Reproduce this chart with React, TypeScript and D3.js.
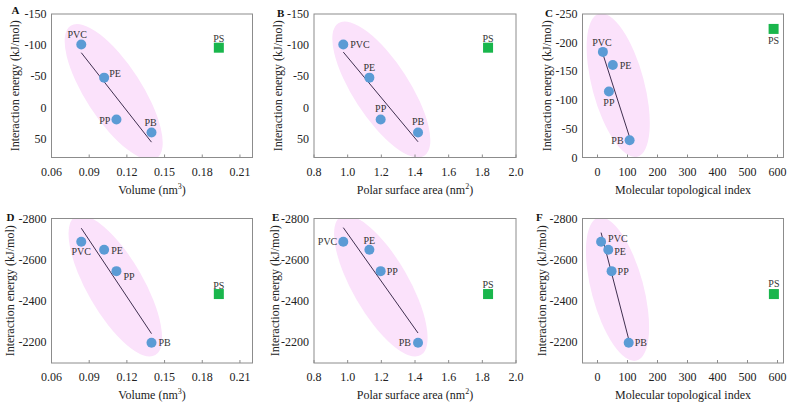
import React from 'react';
import * as d3 from 'd3';

const materials = ['PVC', 'PE', 'PP', 'PB', 'PS'];
const volume = [0.0837, 0.1019, 0.1117, 0.1396, 0.1932];
const polarSurfaceArea = [0.974, 1.129, 1.196, 1.418, 1.834];
const topologicalIndexC = [18, 51, 38, 107, 587];
const topologicalIndexF = [12, 36, 47, 104, 588];
const energyAB = [-101, -48, 19, 40, -96];
const energyC = [-184, -161, -115, -30, -224];
const energyDEF = [-2687, -2649, -2545, -2198, -2434];

const volumeTicks = [0.06, 0.09, 0.12, 0.15, 0.18, 0.21];
const psaTicks = [0.8, 1.0, 1.2, 1.4, 1.6, 1.8, 2.0];
const topoTicks = [0, 100, 200, 300, 400, 500, 600];
const energyABTicks = [-150, -100, -50, 0, 50];
const energyCTicks = [-250, -200, -150, -100, -50, 0];
const energyDEFTicks = [-2800, -2600, -2400, -2200];

const panelLetters = ['A', 'B', 'C', 'D', 'E', 'F'];
const yTitle = 'Interaction energy (kJ/mol)';

const FONT = "'Liberation Serif', 'Times New Roman', serif";
const BLUE = '#5b9bd5';
const GREEN = '#19b64c';
const PINK = '#fbe2fb';
const LINE = '#3f2f4f';
const FRAME = '#8c8c8c';

type Lab = [string, number, number];

interface Panel {
  letter: string;
  x: number[];
  y: number[];
  xDomain: [number, number];
  yDomain: [number, number];
  xTicks: number[];
  yTicks: number[];
  xFmt: (v: number) => string;
  xTitle: 'vol' | 'psa' | 'topo';
  left: number;
  right: number;
  top: number;
  bottom: number;
  yTitleOff: number;
  letterOff: number;
  letterY: number;
  labels: Lab[];
  ellipse: { cx: number; cy: number; rx: number; ry: number; angle: number };
}

const cols = [
  [51.5, 252.5],
  [314, 516],
  [582.5, 783.5],
];
const rows = [
  [14, 157.5],
  [218.5, 363],
];

const panels: Panel[] = [
  {
    letter: panelLetters[0], x: volume, y: energyAB, xDomain: [0.06, 0.22], yDomain: [-150, 80],
    xTicks: volumeTicks, yTicks: energyABTicks, xFmt: (v) => v.toFixed(2), xTitle: 'vol',
    left: cols[0][0], right: cols[0][1], top: rows[0][0], bottom: rows[0][1],
    yTitleOff: -37, letterOff: -40, letterY: 10,
    labels: [['middle', -4, -10], ['start', 5, -4], ['end', -6, 1], ['middle', -1, -10], ['middle', 0, -9]],
    ellipse: { cx: 0.1095, cy: -25, rx: 79, ry: 28, angle: 57 },
  },
  {
    letter: panelLetters[1], x: polarSurfaceArea, y: energyAB, xDomain: [0.8, 2.0], yDomain: [-150, 80],
    xTicks: psaTicks, yTicks: energyABTicks, xFmt: (v) => v.toFixed(1), xTitle: 'psa',
    left: cols[1][0], right: cols[1][1], top: rows[0][0], bottom: rows[0][1],
    yTitleOff: -36, letterOff: -37, letterY: 13,
    labels: [['start', 7, 0], ['middle', 0, -10], ['middle', 0, -11], ['middle', 0, -11], ['middle', 0, -9]],
    ellipse: { cx: 1.2, cy: -29, rx: 79, ry: 28, angle: 57 },
  },
  {
    letter: panelLetters[2], x: topologicalIndexC, y: energyC, xDomain: [-50, 620], yDomain: [-250, 0],
    xTicks: topoTicks, yTicks: energyCTicks, xFmt: (v) => String(v), xTitle: 'topo',
    left: cols[2][0], right: cols[2][1], top: rows[0][0], bottom: rows[0][1],
    yTitleOff: -36, letterOff: -37.5, letterY: 13,
    labels: [['middle', -1, -9], ['start', 7, 0], ['middle', 0, 11], ['end', -6, 0], ['middle', 0, 12]],
    ellipse: { cx: 69, cy: -126, rx: 74, ry: 26, angle: 75 },
  },
  {
    letter: panelLetters[3], x: volume, y: energyDEF, xDomain: [0.06, 0.22], yDomain: [-2800, -2100],
    xTicks: volumeTicks, yTicks: energyDEFTicks, xFmt: (v) => v.toFixed(2), xTitle: 'vol',
    left: cols[0][0], right: cols[0][1], top: rows[1][0], bottom: rows[1][1],
    yTitleOff: -42, letterOff: -45, letterY: 216.5,
    labels: [['middle', 0, 10], ['start', 7, 1], ['start', 7, 5], ['start', 7, 0], ['middle', 0, -9]],
    ellipse: { cx: 0.1108, cy: -2474, rx: 80, ry: 28, angle: 60 },
  },
  {
    letter: panelLetters[4], x: polarSurfaceArea, y: energyDEF, xDomain: [0.8, 2.0], yDomain: [-2800, -2100],
    xTicks: psaTicks, yTicks: energyDEFTicks, xFmt: (v) => v.toFixed(1), xTitle: 'psa',
    left: cols[1][0], right: cols[1][1], top: rows[1][0], bottom: rows[1][1],
    yTitleOff: -39, letterOff: -42, letterY: 216.5,
    labels: [['end', -6, 0], ['middle', 0, -9], ['start', 6, 0], ['end', -7, 0], ['middle', 0, -10]],
    ellipse: { cx: 1.197, cy: -2474, rx: 80, ry: 28, angle: 60 },
  },
  {
    letter: panelLetters[5], x: topologicalIndexF, y: energyDEF, xDomain: [-50, 620], yDomain: [-2800, -2100],
    xTicks: topoTicks, yTicks: energyDEFTicks, xFmt: (v) => String(v), xTitle: 'topo',
    left: cols[2][0], right: cols[2][1], top: rows[1][0], bottom: rows[1][1],
    yTitleOff: -41, letterOff: -46.5, letterY: 216.5,
    labels: [['start', 7, -3.5], ['start', 6, 2], ['start', 6, 0], ['start', 6, 0], ['middle', 0, -11]],
    ellipse: { cx: 66.7, cy: -2458, rx: 74, ry: 26, angle: 75 },
  },
];

function XTitle({ kind, x, y }: { kind: string; x: number; y: number }) {
  if (kind === 'topo') {
    return (
      <text x={x} y={y} textAnchor="middle" fontSize={12} fontFamily={FONT} fill="#222">
        Molecular topological index
      </text>
    );
  }
  const base = kind === 'vol' ? 'Volume (nm' : 'Polar surface area (nm';
  const sup = kind === 'vol' ? '3' : '2';
  return (
    <text x={x} y={y} textAnchor="middle" fontSize={12} fontFamily={FONT} fill="#222">
      {base}
      <tspan fontSize={8} dy={-5}>{sup}</tspan>
      <tspan dy={5}>)</tspan>
    </text>
  );
}

function PanelView({ p, idx }: { p: Panel; idx: number }) {
  const xs = d3.scaleLinear().domain(p.xDomain).range([p.left, p.right]);
  const ys = d3.scaleLinear().domain(p.yDomain).range([p.top, p.bottom]);
  const n = 4;
  const fitX = p.x.slice(0, n);
  const fitY = p.y.slice(0, n);
  const mx = d3.mean(fitX) as number;
  const my = d3.mean(fitY) as number;
  const sxy = d3.sum(fitX.map((v, i) => (v - mx) * (fitY[i] - my)));
  const sxx = d3.sum(fitX.map((v) => (v - mx) * (v - mx)));
  const slope = sxy / sxx;
  const [x0, x1] = d3.extent(fitX) as [number, number];
  const lineGen = d3.line<number>().x((v) => xs(v)).y((v) => ys(my + slope * (v - mx)));
  const clipId = `clip-${idx}`;
  const midY = (p.top + p.bottom) / 2;
  const midX = (p.left + p.right) / 2;
  const ex = xs(p.ellipse.cx);
  const ey = ys(p.ellipse.cy);
  return (
    <g>
      <defs>
        <clipPath id={clipId}>
          <rect x={p.left} y={p.top} width={p.right - p.left} height={p.bottom - p.top} />
        </clipPath>
      </defs>
      <g clipPath={`url(#${clipId})`}>
        <ellipse
          cx={ex}
          cy={ey}
          rx={p.ellipse.rx}
          ry={p.ellipse.ry}
          fill={PINK}
          transform={`rotate(${p.ellipse.angle} ${ex} ${ey})`}
        />
      </g>
      <rect
        x={p.left}
        y={p.top}
        width={p.right - p.left}
        height={p.bottom - p.top}
        fill="none"
        stroke={FRAME}
        strokeWidth={1}
      />
      {p.xTicks.map((t) => (
        <g key={`xt${t}`}>
          <line x1={xs(t)} x2={xs(t)} y1={p.bottom} y2={p.bottom - 3} stroke={FRAME} strokeWidth={1} />
          <text x={xs(t)} y={p.bottom + 18} textAnchor="middle" fontSize={12} fontFamily={FONT} fill="#222">
            {p.xFmt(t)}
          </text>
        </g>
      ))}
      {p.yTicks.map((t) => (
        <text
          key={`yt${t}`}
          x={p.left - 5}
          y={ys(t)}
          textAnchor="end"
          dominantBaseline="central"
          fontSize={12}
          fontFamily={FONT}
          fill="#222"
        >
          {String(t)}
        </text>
      ))}
      <text
        x={p.left + p.yTitleOff}
        y={midY}
        textAnchor="middle"
        dominantBaseline="central"
        fontSize={12}
        fontFamily={FONT}
        fill="#222"
        transform={`rotate(-90 ${p.left + p.yTitleOff} ${midY})`}
      >
        {yTitle}
      </text>
      <XTitle kind={p.xTitle} x={midX} y={p.bottom + 36} />
      <text
        x={p.left + p.letterOff}
        y={p.letterY}
        dominantBaseline="central"
        fontSize={11}
        fontWeight="bold"
        fontFamily={FONT}
        fill="#111"
      >
        {p.letter}
      </text>
      <path d={lineGen([x0, x1]) || ''} stroke={LINE} strokeWidth={1} fill="none" />
      {p.x.map((v, i) =>
        materials[i] === 'PS' ? (
          <rect key={`pt${i}`} x={xs(v) - 5} y={ys(p.y[i]) - 5} width={10} height={10} fill={GREEN} />
        ) : (
          <circle key={`pt${i}`} cx={xs(v)} cy={ys(p.y[i])} r={5} fill={BLUE} />
        )
      )}
      {p.x.map((v, i) => (
        <text
          key={`lb${i}`}
          x={xs(v) + p.labels[i][1]}
          y={ys(p.y[i]) + p.labels[i][2]}
          textAnchor={p.labels[i][0]}
          dominantBaseline="central"
          fontSize={10}
          fontFamily={FONT}
          fill="#333"
        >
          {materials[i]}
        </text>
      ))}
    </g>
  );
}

export default function App() {
  return (
    <svg
      width={793}
      height={403}
      style={{ position: 'absolute', left: 0, top: 0, background: '#fff' }}
    >
      <rect x={0} y={0} width={793} height={403} fill="#fff" />
      {panels.map((p, i) => (
        <PanelView key={p.letter} p={p} idx={i} />
      ))}
    </svg>
  );
}
